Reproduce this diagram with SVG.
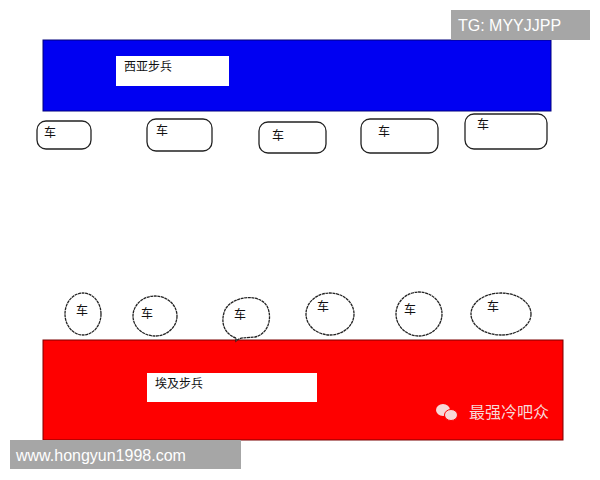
<svg xmlns="http://www.w3.org/2000/svg" width="600" height="480" viewBox="0 0 600 480">
<style>
.t{font-family:"Noto Sans CJK SC","Liberation Sans",sans-serif;font-size:12px;fill:#111}
.car{fill:#fff;stroke:#222;stroke-width:1.3}
.wm{font-family:"Liberation Sans","DejaVu Sans",sans-serif;font-size:16px;fill:#fff}
</style>
<rect width="600" height="480" fill="#fff"/>
<g id="syria">
<rect x="43" y="40" width="508" height="71" fill="#0000f2" stroke="#00007a" stroke-width="1"/>
<rect x="116" y="56" width="113" height="30" fill="#fff"/>
<text class="t" x="124" y="71" font-size="11">西亚步兵</text>
</g>
<g id="top-cars">
<g id="tc1"><rect class="car" x="37" y="121" width="54" height="28" rx="9"/><text class="t" x="44" y="137">车</text></g>
<g id="tc2"><rect class="car" x="147" y="119" width="65" height="32" rx="9"/><text class="t" x="156" y="135">车</text></g>
<g id="tc3"><rect class="car" x="259" y="122" width="67" height="31" rx="9"/><text class="t" x="272" y="140">车</text></g>
<g id="tc4"><rect class="car" x="361" y="119" width="77" height="34" rx="9"/><text class="t" x="378" y="136">车</text></g>
<g id="tc5"><rect class="car" x="465" y="114" width="82" height="35" rx="9"/><text class="t" x="477" y="129">车</text></g>
</g>
<g id="egypt">
<rect x="43" y="340" width="520" height="100" fill="#fe0000" stroke="#7a0000" stroke-width="1"/>
<rect x="147" y="373" width="170" height="29" fill="#fff"/>
<text class="t" x="155" y="388">埃及步兵</text>
<g id="wechat" fill="#f8d8d8">
<ellipse cx="443" cy="410" rx="7" ry="6"/>
<ellipse cx="451" cy="415" rx="6.5" ry="5.5" stroke="#fe0000" stroke-width="1"/>
<text x="469" y="418" font-family="Noto Sans CJK SC,sans-serif" font-size="16" fill="#f8d8d8">最强冷吧众</text>
</g>
</g>
<g id="bottom-cars">
<g id="bc1"><ellipse class="car" cx="83" cy="314" rx="18" ry="21" stroke-dasharray="3 0.6"/><text class="t" x="76" y="315">车</text></g>
<g id="bc2"><ellipse class="car" cx="155" cy="316" rx="22" ry="20" stroke-dasharray="3 0.6"/><text class="t" x="141" y="318">车</text></g>
<g id="bc3"><path class="car" d="M236 338 C224 334 220 322 225 310 C231 297 258 292 267 306 C273 318 268 334 255 337 C246 338 240 337 236 341 Z" stroke-dasharray="3 0.6"/><text class="t" x="234" y="319">车</text></g>
<g id="bc4"><ellipse class="car" cx="330" cy="314" rx="24" ry="21" stroke-dasharray="3 0.6"/><text class="t" x="317" y="311">车</text></g>
<g id="bc5"><ellipse class="car" cx="419" cy="314" rx="23" ry="22" stroke-dasharray="3 0.6"/><text class="t" x="404" y="314">车</text></g>
<g id="bc6"><ellipse class="car" cx="501" cy="314" rx="30" ry="21" stroke-dasharray="3 0.6"/><text class="t" x="487" y="311">车</text></g>
</g>
<g id="tg">
<rect x="451" y="10" width="139" height="30" fill="#a6a6a6"/>
<text class="wm" x="458" y="31">TG: MYYJJPP</text>
</g>
<g id="site">
<rect x="10" y="440" width="231" height="29" fill="#a6a6a6"/>
<text class="wm" x="16" y="461">www.hongyun1998.com</text>
</g>
</svg>
